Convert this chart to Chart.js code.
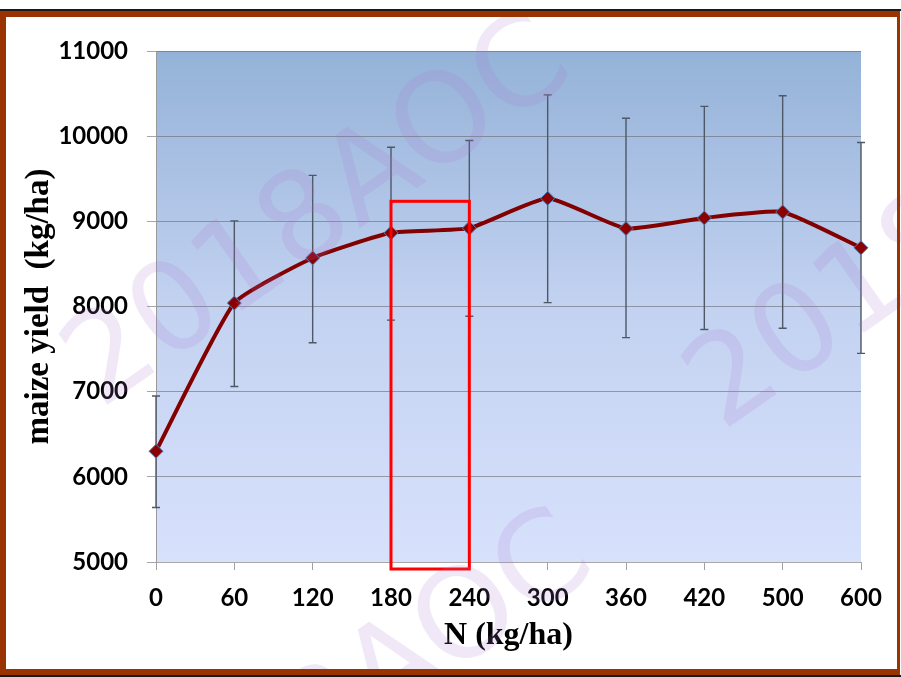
<!DOCTYPE html>
<html>
<head>
<meta charset="utf-8">
<script src="https://cdn.jsdelivr.net/npm/chart.js@4.4.1/dist/chart.umd.min.js"></script>
<style>
  html, body { margin: 0; padding: 0; background: #fff; }
  #wrap { position: relative; width: 901px; height: 677px; overflow: hidden; }
  #chart { position: absolute; left: 0; top: 0; }
  .line-top { position: absolute; left: 0; top: 9px; width: 901px; height: 2px; background: #1a1a1a; }
  .frame { position: absolute; left: 0; top: 11px; width: 900px; height: 664px; box-sizing: border-box;
           border-style: solid; border-color: #993300; border-width: 6px 3px 6px 6px; pointer-events: none; }
  .line-bot { position: absolute; left: 0; top: 675px; width: 901px; height: 2px; background: #1a1a1a; }
</style>
</head>
<body>
<div id="wrap">
  <canvas id="chart" width="901" height="677"></canvas>
  <div class="line-top"></div>
  <div class="frame"></div>
  <div class="line-bot"></div>
</div>
<script>
// N rates (kg/ha) on the x axis
const nRates = ['0', '60', '120', '180', '240', '300', '360', '420', '500', '600'];
// mean maize yield (kg/ha)
const yieldMean  = [6300, 8040, 8570, 8865, 8920, 9270, 8915, 9040, 9110, 8690];
// error bar ends
const yieldUpper = [6950, 9005, 9540, 9870, 9950, 10485, 10210, 10350, 10475, 9925];
const yieldLower = [5640, 7060, 7575, 7840, 7885, 8045, 7635, 7730, 7745, 7450];
// y axis range
const yMin = 5000, yMax = 11000, yStep = 1000;
// highlighted N range (red box)
const highlightRange = ['180', '240'];
const highlightTop = 9235;

const plotBg = {
  id: 'plotBg',
  beforeDraw(chart) {
    const { ctx, chartArea: a } = chart;
    const g = ctx.createLinearGradient(0, a.top, 0, a.bottom);
    g.addColorStop(0, '#94b2d8');
    g.addColorStop(0.5, '#c3d2f1');
    g.addColorStop(1, '#d7e1fc');
    ctx.save();
    ctx.fillStyle = g;
    ctx.fillRect(a.left, a.top, a.right - a.left, a.bottom - a.top);
    ctx.restore();
  }
};

const errorBars = {
  id: 'errorBars',
  beforeDatasetsDraw(chart) {
    const { ctx, scales: { x, y } } = chart;
    ctx.save();
    ctx.strokeStyle = '#4e5866';
    ctx.lineWidth = 1.4;
    nRates.forEach((n, i) => {
      const px = x.getPixelForValue(i);
      const yt = y.getPixelForValue(yieldUpper[i]);
      const yb = y.getPixelForValue(yieldLower[i]);
      ctx.beginPath();
      ctx.moveTo(px, yt); ctx.lineTo(px, yb);
      ctx.moveTo(px - 4, yt); ctx.lineTo(px + 4, yt);
      ctx.moveTo(px - 4, yb); ctx.lineTo(px + 4, yb);
      ctx.stroke();
    });
    ctx.restore();
  }
};

const overlay = {
  id: 'overlay',
  afterDraw(chart) {
    const { ctx, scales: { x, y } } = chart;
    // red box
    const x0 = x.getPixelForValue(nRates.indexOf(highlightRange[0]));
    const x1 = x.getPixelForValue(nRates.indexOf(highlightRange[1]));
    const yt = y.getPixelForValue(highlightTop);
    const yb = y.getPixelForValue(yMin) + 7;
    ctx.save();
    ctx.strokeStyle = '#ff0000';
    ctx.lineWidth = 3;
    ctx.strokeRect(x0, yt, x1 - x0, yb - yt);

    // watermarks
    ctx.font = '124px "DejaVu Sans"';
    ctx.fillStyle = 'rgba(170, 120, 210, 0.17)';
    [[100, 410], [722, 432], [122, 905]].forEach(([wx, wy]) => {
      ctx.save();
      ctx.translate(wx, wy);
      ctx.rotate(-35 * Math.PI / 180);
      ctx.fillText('2018AOC', 0, 0);
      ctx.restore();
    });
    ctx.restore();
  }
};

new Chart(document.getElementById('chart'), {
  type: 'line',
  data: {
    labels: nRates,
    datasets: [{
      data: yieldMean,
      borderColor: '#820000',
      borderWidth: 4,
      tension: 0.15,
      pointStyle: 'rectRot',
      pointRadius: 7,
      pointBackgroundColor: '#8b0000',
      pointBorderColor: '#4f81bd',
      pointBorderWidth: 1
    }]
  },
  options: {
    responsive: false,
    animation: false,
    events: [],
    layout: { padding: { top: 51, right: 40, left: 0, bottom: 0 } },
    plugins: { legend: { display: false }, tooltip: { enabled: false } },
    scales: {
      x: {
        offset: false,
        afterFit: s => { s.height = 115; },
        grid: { drawOnChartArea: false, color: '#a0a0a0', tickLength: 8 },
        border: { color: '#a8a8a8' },
        ticks: { color: '#000', padding: 14, maxRotation: 0,
                 font: { family: 'Lato', weight: 'bold', size: 24 } },
        title: { display: true, text: 'N (kg/ha)', color: '#000',
                 padding: { top: 0, bottom: 22 },
                 font: { family: 'Liberation Serif', weight: 'bold', size: 32 } }
      },
      y: {
        min: yMin, max: yMax,
        afterFit: s => { s.width = 156; },
        grid: { color: 'rgba(105, 105, 110, 0.6)', tickLength: 9 },
        border: { color: '#9a9a9a' },
        ticks: { stepSize: yStep, color: '#000', padding: 19,
                 callback: v => String(v),
                 font: { family: 'Lato', weight: 'bold', size: 24 } },
        title: { display: true, text: 'maize yield  (kg/ha)', color: '#000',
                 padding: { top: 20, bottom: 0 },
                 font: { family: 'Liberation Serif', weight: 'bold', size: 33 } }
      }
    }
  },
  plugins: [plotBg, errorBars, overlay]
});
</script>
</body>
</html>
